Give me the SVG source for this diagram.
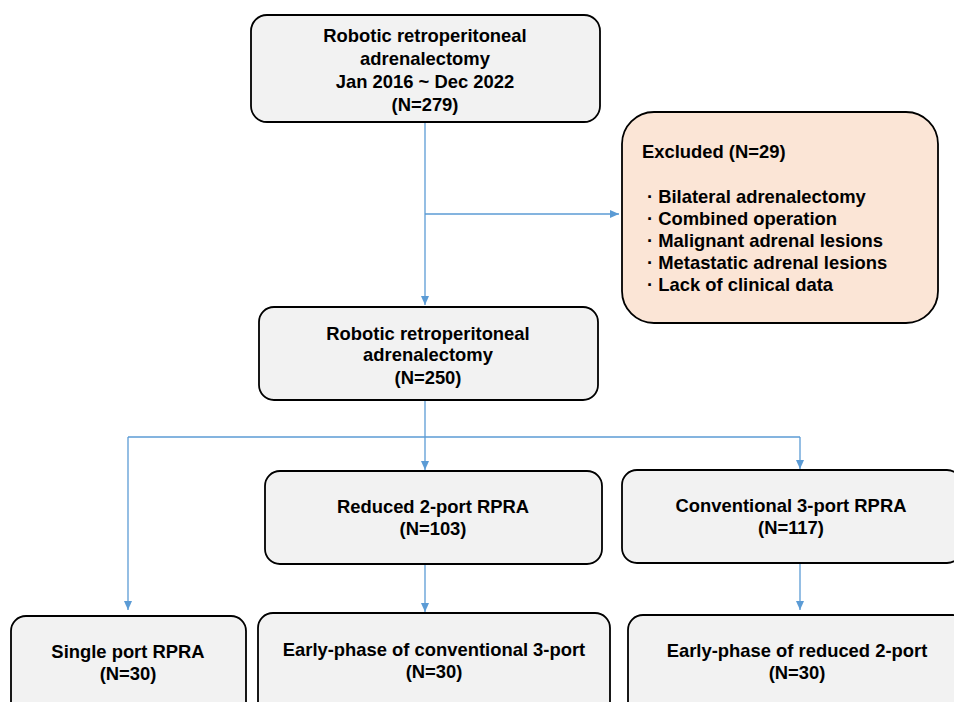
<svg xmlns="http://www.w3.org/2000/svg" width="954" height="702" viewBox="0 0 954 702">
<defs>
<marker id="arr" markerWidth="10" markerHeight="10" refX="9" refY="5" orient="auto" markerUnits="userSpaceOnUse">
<path d="M0,1 L9,5 L0,9 Z" fill="#5B9BD5"/>
</marker>
<style>
.box{fill:#f2f2f2;stroke:#000;stroke-width:1.8}
.exc{fill:#fbe5d6;stroke:#000;stroke-width:1.8}
text{font-family:"Liberation Sans",Arial,sans-serif;font-weight:bold;font-size:18.4px;fill:#000}
.c{text-anchor:middle}
.ln{fill:none;stroke:#5B9BD5;stroke-width:1.3}
</style>
</defs>
<rect width="954" height="702" fill="#fff"/>
<g id="connectors">
<path class="ln" d="M425,122 V305" marker-end="url(#arr)"/>
<path class="ln" d="M425,214 H619" marker-end="url(#arr)"/>
<path class="ln" d="M425,400 V437"/>
<path class="ln" d="M128,437 H800"/>
<path class="ln" d="M128,437 V610" marker-end="url(#arr)"/>
<path class="ln" d="M425,437 V470" marker-end="url(#arr)"/>
<path class="ln" d="M800,437 V469" marker-end="url(#arr)"/>
<path class="ln" d="M425,564 V612" marker-end="url(#arr)"/>
<path class="ln" d="M800,563 V610" marker-end="url(#arr)"/>
</g>
<g id="n1">
<rect class="box" x="251" y="15" width="349" height="107" rx="16"/>
<text class="c" x="425" y="41.5">Robotic retroperitoneal</text>
<text class="c" x="425" y="65">adrenalectomy</text>
<text class="c" x="425" y="88">Jan 2016 ~ Dec 2022</text>
<text class="c" x="425" y="111">(N=279)</text>
</g>
<g id="excluded">
<rect class="exc" x="622" y="112" width="316" height="211" rx="32"/>
<text x="642" y="158">Excluded (N=29)</text>
<text x="647" y="203">· Bilateral adrenalectomy</text>
<text x="647" y="225">· Combined operation</text>
<text x="647" y="247">· Malignant adrenal lesions</text>
<text x="647" y="269">· Metastatic adrenal lesions</text>
<text x="647" y="291">· Lack of clinical data</text>
</g>
<g id="n2">
<rect class="box" x="259" y="307" width="339" height="93" rx="15"/>
<text class="c" x="428" y="339.5">Robotic retroperitoneal</text>
<text class="c" x="428" y="361">adrenalectomy</text>
<text class="c" x="428" y="384">(N=250)</text>
</g>
<g id="reduced">
<rect class="box" x="265" y="471" width="337" height="93" rx="15"/>
<text class="c" x="433" y="513">Reduced 2-port RPRA</text>
<text class="c" x="433" y="534.5">(N=103)</text>
</g>
<g id="conventional">
<rect class="box" x="622" y="470" width="340" height="93" rx="15"/>
<text class="c" x="791" y="512">Conventional 3-port RPRA</text>
<text class="c" x="791" y="533.5">(N=117)</text>
</g>
<g id="single">
<rect class="box" x="11" y="616" width="235" height="110" rx="15"/>
<text class="c" x="128" y="658">Single port RPRA</text>
<text class="c" x="128" y="679.5">(N=30)</text>
</g>
<g id="earlyconv">
<rect class="box" x="258" y="613" width="352" height="110" rx="15"/>
<text class="c" x="434" y="656">Early-phase of conventional 3-port</text>
<text class="c" x="434" y="677.5">(N=30)</text>
</g>
<g id="earlyred">
<rect class="box" x="628" y="615" width="340" height="110" rx="15"/>
<text class="c" x="797" y="657">Early-phase of reduced 2-port</text>
<text class="c" x="797" y="679">(N=30)</text>
</g>
</svg>
